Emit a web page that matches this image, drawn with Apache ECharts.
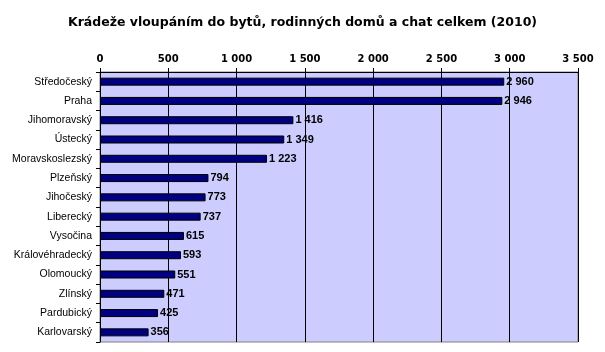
<!DOCTYPE html>
<html>
<head>
    <meta charset="utf-8">
    <script src="https://cdn.jsdelivr.net/npm/echarts@6/dist/echarts.min.js"></script>
    <style>
        body { margin: 0; background: #fff; }
        #main { width: 605px; height: 352px; }
    </style>
</head>
<body>
    <div id="main"></div>
</body>
<script>
    var regions = ['Středočeský', 'Praha', 'Jihomoravský', 'Ústecký', 'Moravskoslezský', 'Plzeňský', 'Jihočeský',
        'Liberecký', 'Vysočina', 'Královéhradecký', 'Olomoucký', 'Zlínský', 'Pardubický', 'Karlovarský'];
    var thefts = [2960, 2946, 1416, 1349, 1223, 794, 773, 737, 615, 593, 551, 471, 425, 356];

    function fmt(v) {
        return String(v).replace(/\B(?=(\d{3})+(?!\d))/g, ' ');
    }

    var myChart = echarts.init(document.getElementById('main'));
    myChart.setOption({
        animation: false,
        title: {
            text: 'Krádeže vloupáním do bytů, rodinných domů a chat celkem (2010)',
            left: 'center',
            top: 11,
            textStyle: { fontFamily: 'DejaVu Sans', fontSize: 12.5, fontWeight: 'bold', color: '#000' }
        },
        grid: {
            left: 100, right: 27, top: 72, bottom: 10,
            show: true,
            backgroundColor: '#CCCCFF',
            borderColor: '#808080',
            borderWidth: 1
        },
        xAxis: {
            type: 'value',
            position: 'top',
            min: 0,
            max: 3500,
            interval: 500,
            axisLine: { show: true, lineStyle: { color: '#000' } },
            axisTick: { show: true, length: 4, lineStyle: { color: '#000' } },
            splitLine: { lineStyle: { color: '#000' } },
            axisLabel: {
                formatter: fmt,
                fontFamily: 'DejaVu Sans', fontSize: 10, fontWeight: 'bold', color: '#000', margin: 8
            }
        },
        yAxis: {
            type: 'category',
            data: regions,
            inverse: true,
            axisLine: { show: true, lineStyle: { color: '#000' } },
            axisTick: { show: true, length: 4, lineStyle: { color: '#000' } },
            axisLabel: { fontFamily: 'Arial', fontSize: 10.5, color: '#000', margin: 8 }
        },
        series: [{
            type: 'bar',
            data: thefts,
            barWidth: 8,
            itemStyle: { color: '#000080', borderColor: '#000', borderWidth: 1 },
            label: {
                show: true,
                position: 'right',
                distance: 2,
                formatter: function (p) { return fmt(p.value); },
                fontFamily: 'Arial', fontSize: 11, fontWeight: 'bold', color: '#000'
            }
        }]
    });
</script>
</html>
